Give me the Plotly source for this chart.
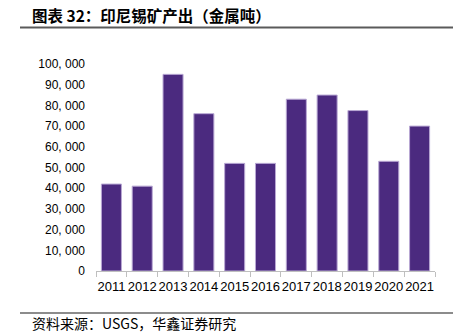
import plotly.graph_objects as go

# Indonesian tin mine output, metric tons of contained metal
years = ["2011", "2012", "2013", "2014", "2015", "2016",
         "2017", "2018", "2019", "2020", "2021"]
output_t = [42000, 41000, 95000, 76000, 52000, 52000,
            83000, 85000, 77500, 53000, 70000]
y_ticks = [0, 10000, 20000, 30000, 40000, 50000,
           60000, 70000, 80000, 90000, 100000]
y_tick_text = ["0", "10, 000", "20, 000", "30, 000", "40, 000", "50, 000",
               "60, 000", "70, 000", "80, 000", "90, 000", "100, 000"]

title_text = "图表 32：印尼锡矿产出（金属吨）"
source_text = "资料来源：USGS，华鑫证券研究"

W, H = 463, 333
L, R, T, B = 96, 28, 64, 62
pw, ph = W - L - R, H - T - B


def px_x(x):
    return (x - L) / pw


def px_y(y):
    return (H - B - y) / ph


fig = go.Figure(go.Bar(
    x=years,
    y=output_t,
    marker=dict(color="#4B2A7F", line=dict(color="#B9A8D4", width=1)),
))

fig.update_layout(
    width=W, height=H,
    margin=dict(l=L, r=R, t=T, b=B),
    paper_bgcolor="white", plot_bgcolor="white",
    bargap=0.35,
    showlegend=False,
    font=dict(family="Liberation Sans, Arial, sans-serif", size=12, color="#000"),
    xaxis=dict(
        type="category",
        showline=True, linecolor="#BFBFBF", linewidth=1,
        ticks="outside", ticklen=5, tickcolor="#BFBFBF",
        tickson="boundaries",
        tickangle=0,
        ticklabelstandoff=3,
        showgrid=False,
        tickfont=dict(size=13, color="#000"),
    ),
    yaxis=dict(
        range=[0, 100000],
        tickvals=y_ticks, ticktext=y_tick_text,
        showgrid=False, zeroline=False, showline=False,
        ticks="", ticklabelstandoff=10,
        tickfont=dict(size=12, color="#000"),
    ),
    shapes=[
        dict(type="line", xref="paper", yref="paper",
             x0=px_x(20), x1=px_x(453), y0=px_y(27.5), y1=px_y(27.5),
             line=dict(color="#5A5A5A", width=2)),
        dict(type="line", xref="paper", yref="paper",
             x0=px_x(20), x1=px_x(453), y0=px_y(313), y1=px_y(313),
             line=dict(color="#8C8C8C", width=2)),
    ],
    annotations=[
        dict(text="<b>" + title_text + "</b>", xref="paper", yref="paper",
             x=px_x(30), y=px_y(15), xanchor="left", yanchor="middle",
             showarrow=False,
             font=dict(family="Noto Sans CJK SC", size=15.5, color="#000")),
        dict(text=source_text, xref="paper", yref="paper",
             x=px_x(30), y=px_y(323), xanchor="left", yanchor="middle",
             showarrow=False,
             font=dict(family="Noto Sans CJK SC", size=14, color="#000")),
    ],
)

fig.write_html("out.html")
